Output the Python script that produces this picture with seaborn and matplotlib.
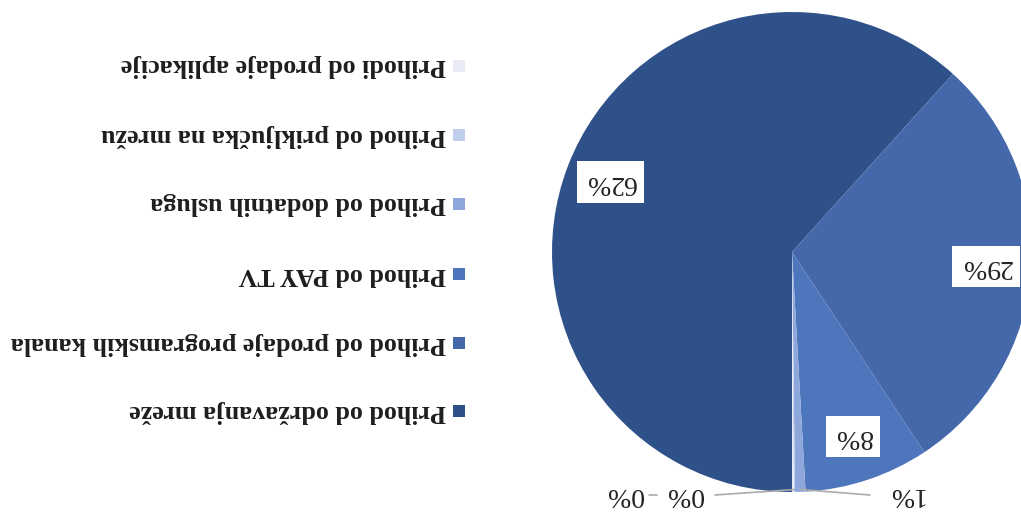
import matplotlib
matplotlib.use("Agg")
import matplotlib.pyplot as plt
from matplotlib.patches import Rectangle
import seaborn as sns
import numpy as np

# Data (chart is a scanned page shown rotated 180 degrees)
categories = [
    "Prihod od održavanja mreže",
    "Prihod od prodaje programskih kanala",
    "Prihod od PAY TV",
    "Prihod od dodatnih usluga",
    "Prihod od priključka na mrežu",
    "Prihodi od prodaje aplikacije",
]
shares = [61.7, 29.0, 8.4, 0.7, 0.1, 0.1]
colors = ["#2F5189", "#4568AB", "#4E76BC", "#8EA7DB", "#C2CEEE", "#E8EAF6"]

sns.set_theme(style="white")
plt.rcParams['font.family'] = ['Liberation Serif', 'DejaVu Serif']

W, H = 1021, 514
fig = plt.figure(figsize=(W / 100, H / 100), dpi=100)
ax = fig.add_axes([0, 0, 1, 1])

cx, cy, R = 792, H - 252, 240
palette = sns.color_palette(colors)
wedges, _ = ax.pie(shares, colors=palette, startangle=270, counterclock=False,
                   center=(cx, cy), radius=R, wedgeprops=dict(linewidth=0))
ax.set_xlim(0, W)
ax.set_ylim(0, H)
ax.set_aspect('equal')
ax.axis('off')


def mid_point(w, frac):
    th = np.deg2rad((w.theta1 + w.theta2) / 2)
    return cx + frac * R * np.cos(th), cy + frac * R * np.sin(th)


# Boxed percentage labels for the three big slices
for i in range(3):
    x, y = mid_point(wedges[i], 0.81)
    ax.text(x, y, f"{shares[i]:.0f}%", rotation=180, ha='center', va='center',
            fontsize=20, color='#222222',
            bbox=dict(boxstyle='square,pad=0.3', fc='white', ec='none'))

# Small slices with leader lines
x1, y1 = mid_point(wedges[3], 0.99)
ax.plot([x1, 870], [y1, H - 495], color='#AAAAAA', lw=1.2)
ax.text(905, H - 494, f"{shares[3]:.0f}%", rotation=180, ha='center', va='center',
        fontsize=20, color='#222222')

x0, y0 = mid_point(wedges[4], 0.99)
ax.plot([x0, 715], [y0, H - 495], color='#AAAAAA', lw=1.2)
ax.text(685, H - 494, f"{shares[4]:.0f}%", rotation=180, ha='center', va='center',
        fontsize=20, color='#222222')
ax.plot([649, 657], [H - 495, H - 495], color='#AAAAAA', lw=1.2)
ax.text(625, H - 494, f"{shares[5]:.0f}%", rotation=180, ha='center', va='center',
        fontsize=20, color='#222222')

# Legend (rotated 180 degrees)
rows_y = [411, 343, 274, 204, 135, 66]
for cat, col, yy in zip(categories, palette, rows_y):
    ax.add_patch(Rectangle((459 - 6, H - yy - 6), 12, 12, fc=col, ec='none'))
    ax.text(446, H - yy, cat, rotation=180, rotation_mode='anchor',
            ha='left', va='center', fontsize=18.7, fontweight='bold', color='#1e1e1e')

fig.savefig("out.png", dpi=100)
